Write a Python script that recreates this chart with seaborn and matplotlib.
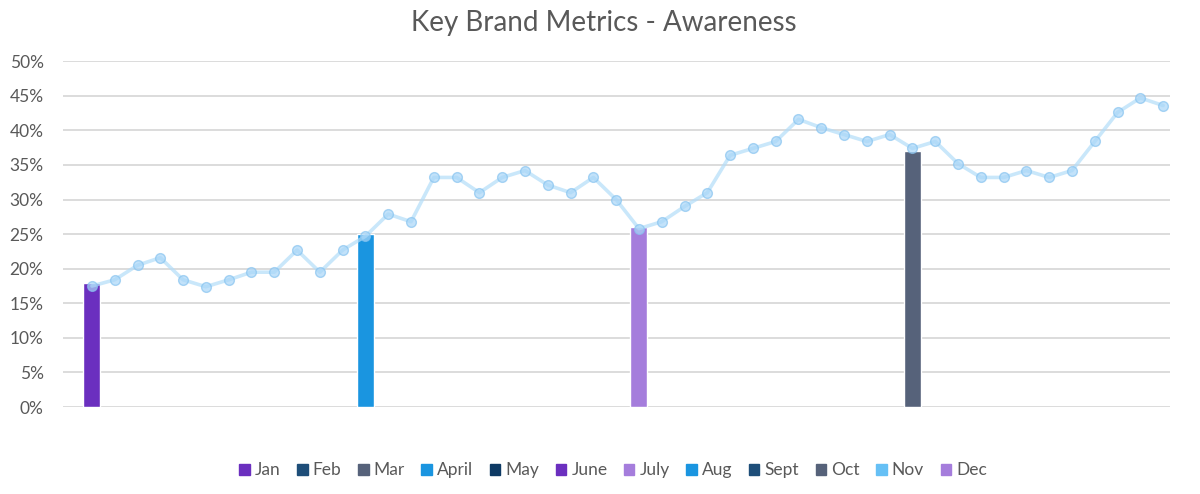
import numpy as np
import pandas as pd
import matplotlib
matplotlib.use('Agg')
import matplotlib.pyplot as plt
import matplotlib.patches as mpatches
from matplotlib.ticker import PercentFormatter
import seaborn as sns

# ── data ──────────────────────────────────────────
awareness = [17.5, 18.4, 20.5, 21.6, 18.4, 17.4, 18.4, 19.5, 19.5, 22.7,
             19.5, 22.7, 24.7, 27.9, 26.8, 33.2, 33.2, 31.0, 33.2, 34.2,
             32.1, 31.0, 33.2, 30.0, 25.8, 26.8, 29.0, 31.0, 36.4, 37.4,
             38.4, 41.6, 40.4, 39.4, 38.4, 39.4, 37.4, 38.4, 35.2, 33.2,
             33.2, 34.2, 33.2, 34.2, 38.4, 42.6, 44.7, 43.6]
week = list(range(len(awareness)))

bar_week = [0, 12, 24, 36]
bar_value = [18, 25, 26, 37]
bar_month = ['Jan', 'April', 'July', 'Oct']

months = ['Jan', 'Feb', 'Mar', 'April', 'May', 'June',
          'July', 'Aug', 'Sept', 'Oct', 'Nov', 'Dec']
month_colors = ['#6B2FBF', '#1E4E79', '#56627A', '#1A95E0', '#0E3A64', '#6B2FBF',
                '#A57DDC', '#1A95E0', '#1E4E79', '#56627A', '#66C0F5', '#A57DDC']
color_of = dict(zip(months, month_colors))

df = pd.DataFrame({'week': week, 'awareness': awareness})

# ── plot ──────────────────────────────────────────
sns.set_theme(style='white')
plt.rcParams['font.family'] = ['Lato', 'DejaVu Sans']
text_grey = '#595959'

fig = plt.figure(figsize=(12, 4.94), dpi=100)
ax = fig.add_axes([0.0525, 0.176, 0.9225, 0.7])

ax.bar(bar_week, bar_value, width=0.75,
       color=[color_of[m] for m in bar_month], zorder=2)

sns.lineplot(data=df, x='week', y='awareness', ax=ax, color='#B3DDF9',
             linewidth=2.6, alpha=0.7, zorder=3,
             marker='o', markersize=7, markerfacecolor='#A9D6F8',
             markeredgecolor='#88C4F0', markeredgewidth=1.0)

ax.set_xlim(-1.27, 47.3)
ax.set_ylim(0, 50)
ax.set_yticks(np.arange(0, 51, 5))
ax.yaxis.set_major_formatter(PercentFormatter(decimals=0))
ax.set_xticks([])
ax.set_xlabel('')
ax.set_ylabel('')
ax.grid(True, axis='y', color='#D9D9D9', linewidth=1.3, zorder=0)
ax.set_axisbelow(True)
for s in ax.spines.values():
    s.set_visible(False)
ax.tick_params(axis='y', length=0, pad=14, labelsize=12.5, labelcolor=text_grey)

fig.text(0.503, 0.953, 'Key Brand Metrics - Awareness', ha='center', va='center',
         fontsize=20, color=text_grey)

handles = [mpatches.Patch(color=c, label=m) for m, c in zip(months, month_colors)]
fig.legend(handles=handles, loc='center', bbox_to_anchor=(0.511, 0.048), ncol=12,
           frameon=False, fontsize=12.5, labelcolor=text_grey,
           handlelength=0.6, handleheight=0.6, handletextpad=0.3, columnspacing=0.95)

plt.savefig('out.png', dpi=100)
plt.close()
